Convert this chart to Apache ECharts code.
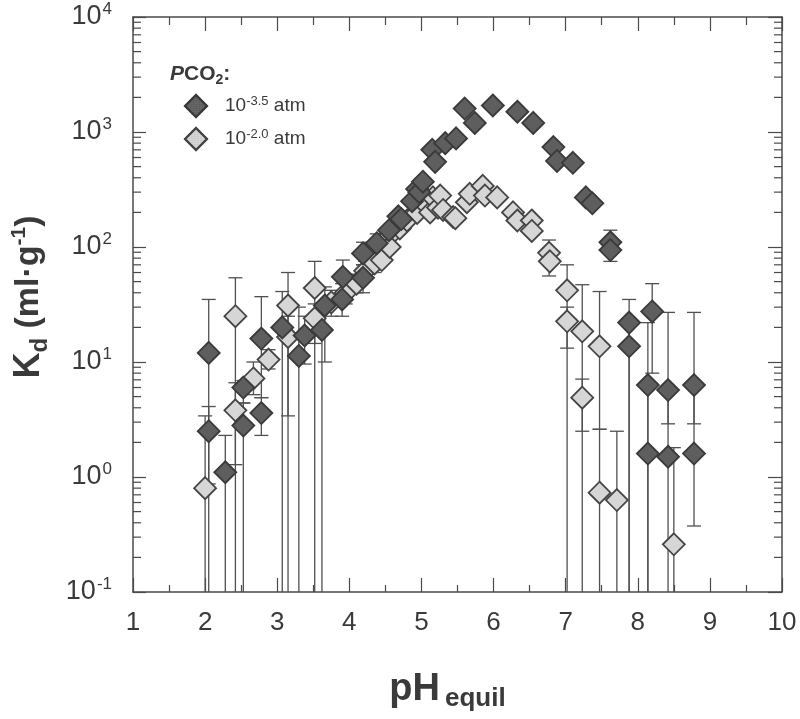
<!DOCTYPE html>
<html><head><meta charset="utf-8">
<script src="https://cdn.jsdelivr.net/npm/echarts@6/dist/echarts.min.js"></script>
<style>html,body{margin:0;padding:0;background:#fff}#c{width:800px;height:719px}</style>
</head><body><div id="c"></div>
<script>
// ---- data ----
var xTicks = [1,2,3,4,5,6,7,8,9,10];
var yTicks = [0.1,1,10,100,1000,10000];
var seriesNames = ['10^-3.5 atm','10^-2.0 atm'];
// PCO2 = 10^-3.5 atm  [pH, Kd]
var dark = [
[2.05,12],[2.05,2.5],[2.28,1.1],[2.53,6.0],[2.53,2.8],[2.78,16],[2.78,3.6],[3.07,20],[3.3,11.3],[3.38,17],
[3.62,19],[3.66,31],[3.9,35],[3.91,55],[4.19,54],[4.19,88],[4.38,108],[4.55,140],[4.68,185],[4.72,175],
[4.87,250],[4.94,320],[4.97,300],[5.02,370],[5.15,700],[5.19,550],[5.33,800],[5.48,880],[5.6,1600],[5.74,1200],
[5.99,1700],[6.33,1500],[6.55,1200],[6.83,740],[6.88,560],[7.1,540],[7.28,270],[7.37,240],[7.62,110],[7.62,94],
[7.88,22],[7.88,13.7],[8.2,27.5],[8.14,6.3],[8.14,1.6],[8.42,5.7],[8.42,1.5],[8.78,6.3],[8.78,1.6]
];
// PCO2 = 10^-2.0 atm  [pH, Kd]
var light = [
[2.0,0.8],[2.42,25],[2.42,3.8],[2.67,7.2],[2.88,10.5],[3.15,31],[3.15,16.5],[3.52,44],[3.52,24],[3.75,33],
[3.95,40],[4.1,48],[4.22,62],[4.35,72],[4.45,77],[4.54,122],[4.56,100],[4.7,145],[4.8,170],[4.94,198],
[5.0,255],[5.12,200],[5.16,270],[5.23,220],[5.26,280],[5.3,210],[5.44,182],[5.47,178],[5.63,245],[5.67,290],
[5.85,340],[5.88,280],[6.05,270],[6.27,200],[6.33,170],[6.53,170],[6.53,138],[6.77,89],[6.78,75],[7.02,42],
[7.02,22.6],[7.23,18.5],[7.23,4.9],[7.47,13.7],[7.47,0.73],[7.71,0.63],[8.5,0.26]
];
// error bars [pH, low, high]; low null = bar runs to the axis
var darkErr = [
[2.05,0.87,35],[2.05,null,4.1],[2.28,null,2.3],[2.53,4.4,6.9],[2.53,null,4.4],[2.78,4.9,37],[2.78,2.3,4.9],
[3.07,null,41],[3.3,null,30],[3.38,9.6,25],[3.62,null,27],[3.66,10,45],[3.9,25,48],[3.91,40,77],[4.19,40,70],
[4.19,70,110],[4.38,90,130],[7.62,75,140],[7.88,null,35],[7.88,null,22],[8.2,8,48],[8.14,null,22],[8.14,null,6.3],
[8.42,2.9,27],[8.42,null,5.7],[8.78,2.9,27],[8.78,0.375,6.3]
];
var lightErr = [
[2.0,null,3.4],[2.42,null,54],[2.42,1.28,6.6],[2.67,5.2,10],[2.88,8.7,12.8],[3.15,3.4,60],[3.15,null,25],
[3.52,null,75],[3.52,14.5,32],[3.75,25,42],[3.95,32,50],[4.1,40,58],[4.22,52,75],[4.35,60,85],[4.54,105,140],
[6.77,56,115],[7.02,13.2,70],[7.02,null,30],[7.23,null,47],[7.23,2.5,7.1],[7.47,2.6,41],[7.47,null,2.6],
[7.71,null,2.5],[8.5,null,1.8]
];
var minorY = [];
[0.1,1,10,100,1000].forEach(function(d){ for (var m=2;m<=9;m++) minorY.push(+(d*m).toPrecision(3)); });

var FONT = '"Liberation Sans", Arial, Helvetica, sans-serif';
var AX = '#4a4a4a';
var TXT = '#3a3a3a';

function errData(arr){ return arr.map(function(e){ return [e[0], e[1]==null?0.1:e[1], e[2], e[1]==null?0:1]; }); }
function errRender(params, api){
  var x = api.value(0), lo = api.value(1), hi = api.value(2), cap = api.value(3);
  var a = api.coord([x, hi]), b = api.coord([x, lo]);
  var w = 7, st = {stroke:'#505050', lineWidth:1.3};
  var ch = [
    {type:'line', shape:{x1:a[0],y1:a[1],x2:b[0],y2:b[1]}, style:st},
    {type:'line', shape:{x1:a[0]-w,y1:a[1],x2:a[0]+w,y2:a[1]}, style:st}
  ];
  if (cap) ch.push({type:'line', shape:{x1:b[0]-w,y1:b[1],x2:b[0]+w,y2:b[1]}, style:st});
  return {type:'group', children:ch};
}
function minorRender(params, api){
  var v = api.value(0);
  var l = api.coord([1, v]), r = api.coord([10, v]);
  var st = {stroke:AX, lineWidth:1.2};
  return {type:'group', children:[
    {type:'line', shape:{x1:l[0],y1:l[1],x2:l[0]+8,y2:l[1]}, style:st},
    {type:'line', shape:{x1:r[0]-8,y1:r[1],x2:r[0],y2:r[1]}, style:st}
  ]};
}

var chart = echarts.init(document.getElementById('c'), null, {renderer:'canvas'});
var commonX = {type:'value', min:xTicks[0], max:xTicks[xTicks.length-1], interval:1,
  axisLine:{show:true, onZero:false, lineStyle:{color:AX, width:1.5}},
  splitLine:{show:false}};
var commonY = {type:'log', logBase:10, min:yTicks[0], max:yTicks[yTicks.length-1],
  axisLine:{show:true, lineStyle:{color:AX, width:1.5}}, splitLine:{show:false}};

chart.setOption({
  animation:false,
  backgroundColor:'#fff',
  grid:{left:133, right:18, top:17, bottom:127},
  xAxis:[
    Object.assign({}, commonX, {position:'bottom',
      axisTick:{inside:true, length:14, lineStyle:{color:AX, width:1.2}},
      minorTick:{show:true, splitNumber:2, length:7, lineStyle:{color:AX, width:1.2}},
      axisLabel:{fontSize:26, color:TXT, fontFamily:FONT, margin:18},
      name:'{p|pH}{e|equil}', nameLocation:'middle', nameGap:76,
      nameTextStyle:{padding:[0,20,0,0], rich:{
        p:{fontSize:38, fontWeight:'bold', color:TXT, fontFamily:FONT},
        e:{fontSize:26, fontWeight:'bold', color:TXT, fontFamily:FONT, padding:[18,0,0,5]}
      }}}),
    Object.assign({}, commonX, {position:'top',
      axisTick:{inside:true, length:14, lineStyle:{color:AX, width:1.2}},
      minorTick:{show:true, splitNumber:2, length:8, lineStyle:{color:AX, width:1.2}},
      axisLabel:{show:false}})
  ],
  yAxis:[
    Object.assign({}, commonY, {position:'left',
      axisTick:{inside:true, length:13, lineStyle:{color:AX, width:1.2}},
      axisLabel:{margin:21, fontFamily:FONT, color:TXT,
        formatter:function(v){ var e=Math.round(Math.log10(v)); return '{b|10}{s|'+e+'}'; },
        rich:{b:{fontSize:27, color:TXT, fontFamily:FONT},
              s:{fontSize:17, color:TXT, fontFamily:FONT, padding:[0,0,16,1]}}}}),
    Object.assign({}, commonY, {position:'right',
      axisTick:{inside:true, length:14, lineStyle:{color:AX, width:1.2}},
      axisLabel:{show:false}})
  ],
  legend:{
    data:seriesNames, orient:'vertical', left:179, top:89, itemWidth:22, itemHeight:22, itemGap:9,
    formatter:function(n){ var p=n.split(' ')[0].replace('10^',''); return '{g|}{b|10}{s|'+p+'}{b| atm}'; },
    textStyle:{rich:{
      g:{width:13},
      b:{fontSize:19, color:TXT, fontFamily:FONT},
      s:{fontSize:13, color:TXT, fontFamily:FONT, padding:[0,0,10,0]}
    }}
  },
  graphic:[
    {type:'text', left:170, top:64, style:{
      text:'{p|P}{c|CO}{t|2}{c|:}', rich:{
        p:{fontSize:21, fontWeight:'bold', fontStyle:'italic', fill:TXT, fontFamily:FONT},
        c:{fontSize:21, fontWeight:'bold', fill:TXT, fontFamily:FONT},
        t:{fontSize:14, fontWeight:'bold', fill:TXT, fontFamily:FONT, padding:[12,0,0,0]}
      }}},
    {type:'text', x:29, y:297, rotation:Math.PI/2, style:{
      text:'{k|K}{d|d}{m| (ml·g}{s|-1}{m|)}', align:'center', verticalAlign:'middle', rich:{
        k:{fontSize:36, fontWeight:'bold', fill:TXT, fontFamily:FONT},
        d:{fontSize:24, fontWeight:'bold', fill:TXT, fontFamily:FONT, padding:[22,0,0,0]},
        m:{fontSize:34, fontWeight:'bold', fill:TXT, fontFamily:FONT},
        s:{fontSize:21, fontWeight:'bold', fill:TXT, fontFamily:FONT, padding:[0,0,20,0]}
      }}}
  ],
  series:[
    {type:'custom', name:'minor', xAxisIndex:0, yAxisIndex:0, renderItem:minorRender, data:minorY.map(function(v){return [v];}),
      encode:{y:0}, silent:true, z:1, clip:false},
    {type:'custom', name:'darkErr', xAxisIndex:0, yAxisIndex:0, renderItem:errRender, data:errData(darkErr),
      encode:{x:0, y:[1,2]}, silent:true, z:2},
    {type:'custom', name:'lightErr', xAxisIndex:0, yAxisIndex:0, renderItem:errRender, data:errData(lightErr),
      encode:{x:0, y:[1,2]}, silent:true, z:2},
    {type:'scatter', name:seriesNames[1], data:light, symbol:'diamond', symbolSize:22, z:3,
      itemStyle:{color:'#d6d6d6', borderColor:'#454545', borderWidth:1.8, opacity:1,
        decal:{symbol:'rect', symbolSize:0.5, color:'rgba(90,90,90,0.45)', dashArrayX:[2,1], dashArrayY:[1,1], rotation:0}}},
    {type:'scatter', name:seriesNames[0], data:dark, symbol:'diamond', symbolSize:22, z:4,
      itemStyle:{color:'#5e5e5e', borderColor:'#3a3a3a', borderWidth:1.8, opacity:1,
        decal:{symbol:'rect', symbolSize:0.5, color:'rgba(200,200,200,0.45)', dashArrayX:[2,1], dashArrayY:[1,1], rotation:0}}}
  ]
});
</script></body></html>
